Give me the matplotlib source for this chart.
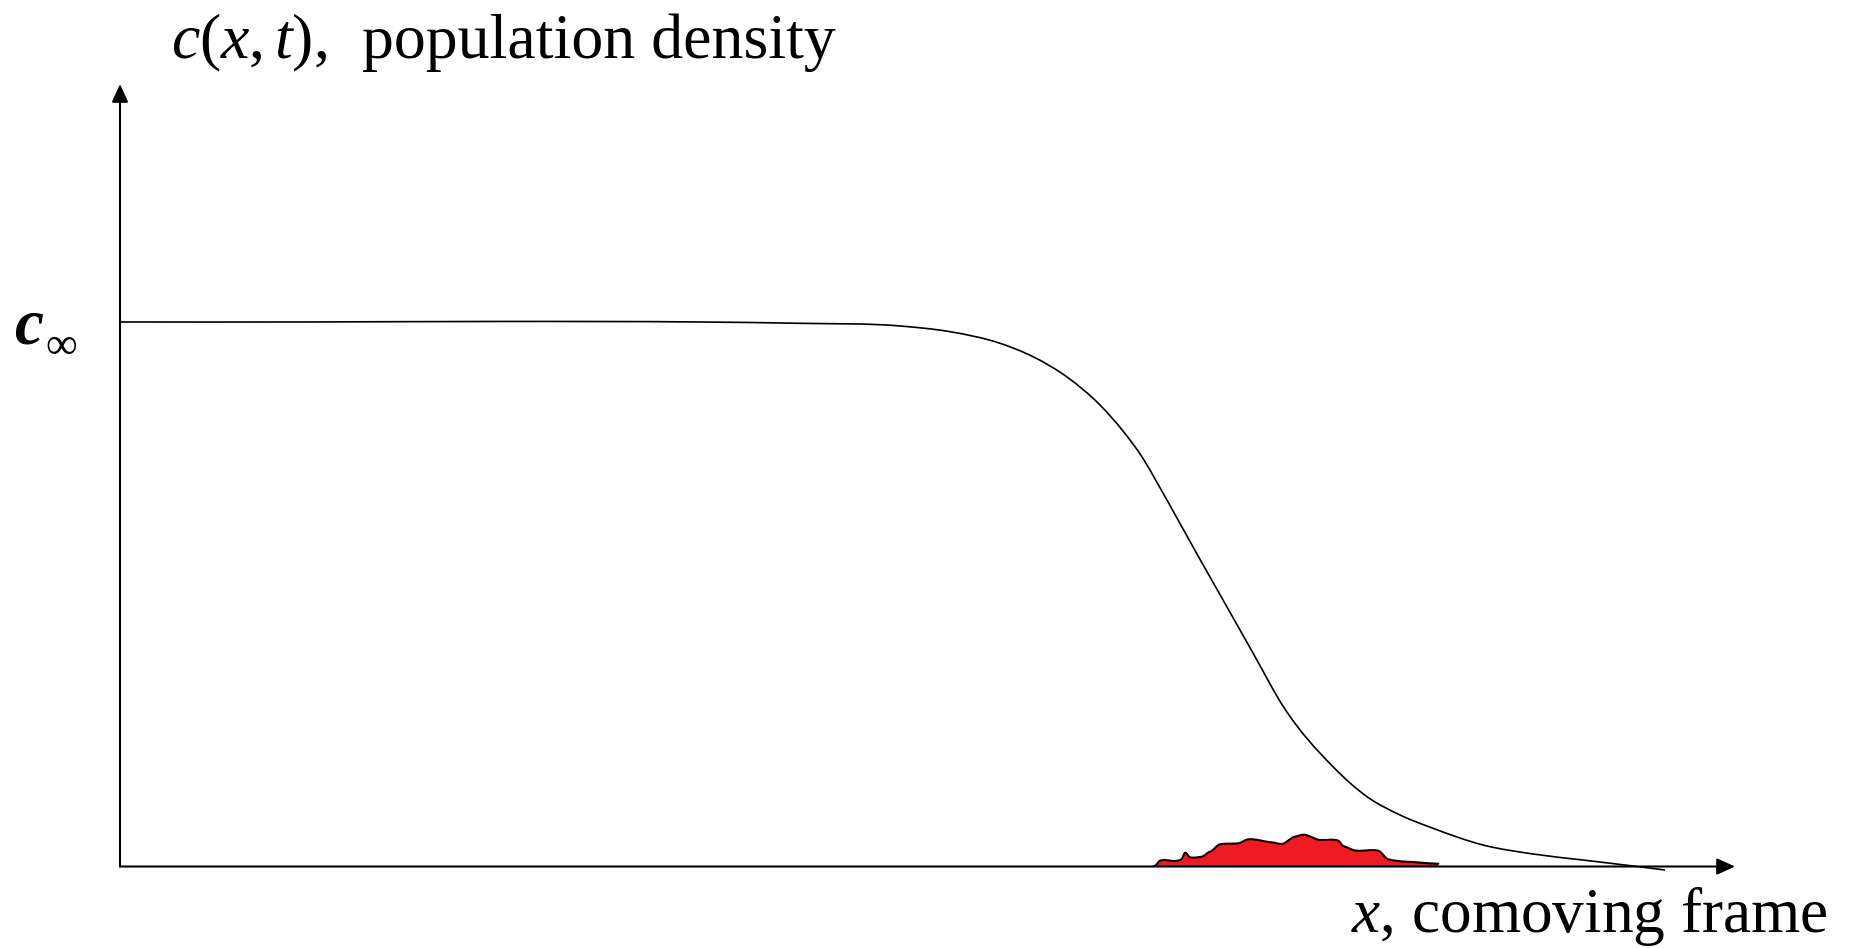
# Travelling front sketch: population density c(x,t) in the comoving frame,
# with a small red patch sitting under the leading edge.
import matplotlib
matplotlib.use("Agg")
import matplotlib.pyplot as plt
import numpy as np
from matplotlib.path import Path
from matplotlib.patches import PathPatch

INK = "#000000"; RED = "#ed1c24"
W, H = 1850, 948

plt.rcParams.update({
    "font.family": ["Liberation Serif", "DejaVu Serif"],
    "mathtext.fontset": "custom", "mathtext.rm": "Liberation Serif",
    "mathtext.it": "Liberation Serif:italic", "mathtext.bf": "Liberation Serif:bold",
})

# front profile (x in comoving units, c in units of c_inf)
front_x = [0.0, 1.8, 3.8, 5.8, 6.8, 7.8, 8.3, 8.8, 9.13, 9.47, 9.8, 10.03, 10.23,
           10.37, 10.5, 10.77, 11.07, 11.33, 11.63, 12.13, 12.47, 12.8,
           13.13, 13.63, 14.13, 14.63, 15.13, 15.45]
front_c = [1.0, 1.0, 1.001, 1.0, 0.9976, 0.9927, 0.9822, 0.9609, 0.9363, 0.8990,
           0.8475, 0.7998, 0.7494, 0.7053, 0.6630, 0.5739, 0.4766, 0.3921, 0.2947,
           0.1833, 0.1282, 0.0946, 0.0702, 0.0395, 0.0230, 0.0119,
           0.0009, -0.0064]

# red patch ahead of the front
blob_x = [10.33, 10.35, 10.40, 10.617, 10.65, 10.70, 10.817, 10.90, 11.00, 11.183,
          11.283, 11.517, 11.617, 11.75, 11.833, 12.00, 12.183, 12.233, 12.367,
          12.583, 12.683, 12.867, 13.183]
blob_c = [0.0, 0.0015, 0.0107, 0.0138, 0.0253, 0.0169, 0.0180, 0.0271, 0.0407,
          0.0426, 0.0499, 0.0444, 0.0413, 0.0548, 0.0584, 0.0487, 0.0474, 0.0376,
          0.0290, 0.0290, 0.0132, 0.0088, 0.0051]


def smooth_path(xs, ys, k=1.0, close=False):
    # cubic Hermite through the points (tangents from neighbouring secants,
    # scaled by k), drawn as Bezier segments
    x = np.asarray(xs, float); y = np.asarray(ys, float)
    h = np.diff(x)
    sec = np.diff(y) / h
    m = np.empty_like(x)
    m[0], m[-1] = sec[0], sec[-1]
    m[1:-1] = (sec[:-1] * h[1:] + sec[1:] * h[:-1]) / (h[:-1] + h[1:])
    m *= k
    verts, codes = [(x[0], y[0])], [Path.MOVETO]
    for i in range(len(x) - 1):
        d = h[i] / 3
        verts += [(x[i] + d, y[i] + m[i] * d), (x[i + 1] - d, y[i + 1] - m[i + 1] * d),
                  (x[i + 1], y[i + 1])]
        codes += [Path.CURVE4] * 3
    if close:
        verts += [(x[-1], 0), (x[0], 0), (x[0], y[0])]
        codes += [Path.LINETO, Path.LINETO, Path.CLOSEPOLY]
    return Path(verts, codes)


fig = plt.figure(figsize=(W / 100, H / 100), dpi=100)
x0, y0, x1, y1 = 120, 866.5, 1735, 84   # origin and arrow tips, pixels
ax = fig.add_axes([x0 / W, 1 - y0 / H, (x1 - x0) / W, (y0 - y1) / H])
ax.set_xlim(0, (x1 - x0) / 100)
ax.set_ylim(0, (y0 - y1) / 544.5)
ax.axis("off")

# axes with arrow heads
arrow = dict(arrowstyle="-|>,head_length=1.1,head_width=0.5", lw=1.5, color=INK,
             shrinkA=0, shrinkB=0)
ax.annotate("", xy=(1, 0), xytext=(0, 0), xycoords="axes fraction", arrowprops=arrow)
ax.annotate("", xy=(0, 1), xytext=(0, 0), xycoords="axes fraction", arrowprops=arrow)

ax.add_patch(PathPatch(smooth_path(blob_x, blob_c, 0.4, close=True), fc=RED, ec="none",
                       zorder=2))
ax.add_patch(PathPatch(smooth_path(blob_x, blob_c, 0.4), fc="none", ec=INK,
                       lw=1.5, zorder=3, capstyle="round", joinstyle="round"))
ax.add_patch(PathPatch(smooth_path(front_x, front_c), fc="none", ec=INK, lw=1.2,
                       zorder=3, clip_on=False))

def ftext(px, py, s, **kw):
    fig.text(px / W, 1 - py / H, s, ha="left", va="baseline", **kw)

ftext(171, 58, r"$c(x,t),$", fontsize=46)
ftext(362, 58, "population density", fontsize=46)
ftext(14, 343, "c", fontsize=47, fontstyle="italic", fontweight="bold")
ftext(45, 358, "\u221e", fontsize=32)
ftext(1351, 932, r"$x$, comoving frame", fontsize=45.5)

fig.savefig("out.png", dpi=100)
